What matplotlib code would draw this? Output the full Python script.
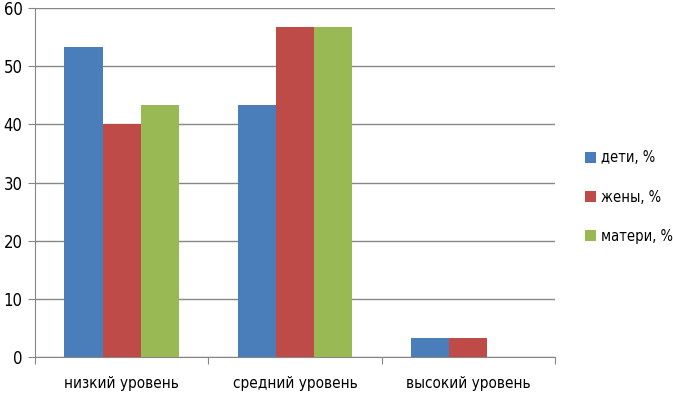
import matplotlib
matplotlib.use("Agg")
import matplotlib.pyplot as plt
import numpy as np
from matplotlib.patches import Patch

plt.rcParams['font.family'] = ['DejaVu Sans']
plt.rcParams['font.stretch'] = 'condensed'

categories = ["низкий уровень", "средний уровень", "высокий уровень"]
series_names = ["дети, %", "жены, %", "матери, %"]
deti = [53.3, 43.3, 3.3]
zheny = [40.0, 56.7, 3.3]
materi = [43.3, 56.7, 0.0]
colors = ["#4a7ebb", "#be4b48", "#98b954"]

fig = plt.figure(figsize=(6.73, 3.95), dpi=100)
ax = fig.add_axes([35/673, 1 - 357/395, 520/673, 349/395])

x = np.arange(len(categories))
w = 0.22
for i, (vals, c) in enumerate(zip([deti, zheny, materi], colors)):
    ax.bar(x + (i - 1) * w, vals, width=w, color=c, zorder=3)

ax.set_xlim(-0.5, 2.5)
ax.set_ylim(0, 60)
ax.set_yticks(range(0, 61, 10))
ax.yaxis.grid(True, color="#868686", linewidth=1, zorder=0)
ax.set_axisbelow(True)
for s in ["top", "right"]:
    ax.spines[s].set_visible(False)
ax.spines["left"].set_color("#868686")
ax.spines["bottom"].set_color("#868686")
ax.tick_params(axis="y", length=5, color="#868686", labelsize=12, pad=4)
ax.set_xticks([-0.5, 0.5, 1.5, 2.5])
ax.set_xticklabels([])
ax.tick_params(axis="x", length=5, color="#868686")
ax.set_xticks(x, minor=True)
ax.set_xticklabels(categories, minor=True, fontsize=11)
ax.tick_params(axis="x", which="minor", length=0, pad=14)

handles = [Patch(facecolor=c, edgecolor="none") for c in colors]
fig.legend(handles, series_names, loc="center left", bbox_to_anchor=(585/673, 1 - 197/395),
           frameon=False, fontsize=10.5, handlelength=0.75, handleheight=0.75,
           handletextpad=0.35, labelspacing=1.65, borderaxespad=0, borderpad=0)

fig.savefig("out.png", dpi=100)
